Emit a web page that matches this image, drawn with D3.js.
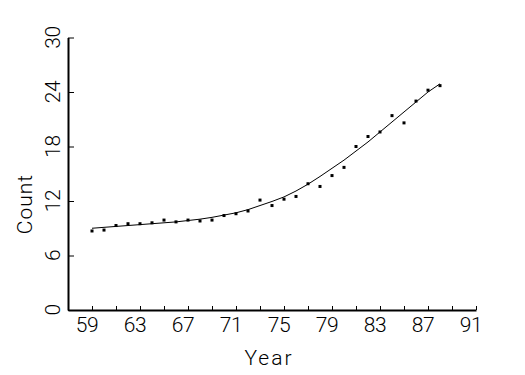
<!DOCTYPE html>
<html>
<head>
<meta charset="utf-8">
<script src="https://cdn.jsdelivr.net/npm/d3@7"></script>
<style>
  body { margin: 0; background: #fff; }
  svg text { font-family: "Roboto", "Liberation Sans Narrow", sans-serif; font-weight: 300; fill: #000; }
  .axis path { stroke: #000; stroke-width: 2; }
  .axis line { stroke: #000; stroke-width: 1; }
</style>
</head>
<body>
<script>
// data
var years = [59, 60, 61, 62, 63, 64, 65, 66, 67, 68, 69, 70, 71, 72, 73, 74,
             75, 76, 77, 78, 79, 80, 81, 82, 83, 84, 85, 86, 87, 88];
var counts = [8.7, 8.8, 9.3, 9.5, 9.5, 9.6, 9.9, 9.7, 9.9, 9.8, 9.9, 10.4, 10.6, 10.9, 12.1, 11.5,
              12.2, 12.5, 13.9, 13.6, 14.8, 15.7, 18.0, 19.1, 19.6, 21.4, 20.6, 23.0, 24.2, 24.7];
var fitted = [9.0, 9.1, 9.2, 9.3, 9.4, 9.5, 9.6, 9.7, 9.85, 10.0, 10.2, 10.45, 10.7, 11.05, 11.5, 11.95,
              12.45, 13.1, 13.85, 14.7, 15.6, 16.5, 17.5, 18.5, 19.6, 20.7, 21.8, 22.9, 24.0, 24.9];
var xTicks = d3.range(59, 92, 2);
var xLabels = d3.range(59, 92, 4);
var yTicks = [0, 6, 12, 18, 24, 30];

var svgWidth = 525;
var svgHeight = 375;

var svg = d3.select("body")
  .append("svg")
  .attr("width", svgWidth)
  .attr("height", svgHeight);

var xScale = d3.scaleLinear().domain([57, 91]).range([68, 476]);
var yScale = d3.scaleLinear().domain([0, 30]).range([310, 37.5]);

// x axis, ticks pointing up into the plot
var bottomAxis = d3.axisBottom(xScale)
  .tickValues(xTicks)
  .tickSizeInner(-4)
  .tickSizeOuter(0)
  .tickFormat("");

svg.append("g")
  .attr("class", "axis")
  .attr("transform", "translate(0,310)")
  .call(bottomAxis);

svg.append("g").selectAll("text")
  .data(xLabels)
  .enter()
  .append("text")
  .attr("x", d => xScale(d) - 5)
  .attr("y", 332)
  .attr("text-anchor", "middle")
  .style("font-size", "21px")
  .style("letter-spacing", "-0.5px")
  .text(d => d);

// y axis, ticks pointing right
var leftAxis = d3.axisLeft(yScale)
  .tickValues(yTicks)
  .tickSizeInner(-6)
  .tickSizeOuter(0)
  .tickFormat("");

svg.append("g")
  .attr("class", "axis")
  .attr("transform", "translate(68,0)")
  .call(leftAxis);

svg.append("g").selectAll("text")
  .data(yTicks)
  .enter()
  .append("text")
  .attr("transform", d => `translate(60,${yScale(d)}) rotate(-90)`)
  .attr("text-anchor", "middle")
  .style("font-size", "21px")
  .style("letter-spacing", "-0.5px")
  .text(d => d);

// axis titles
svg.append("text")
  .attr("x", 269)
  .attr("y", 365)
  .attr("text-anchor", "middle")
  .style("font-size", "21px")
  .style("letter-spacing", "2px")
  .text("Year");

svg.append("text")
  .attr("transform", "translate(32,204) rotate(-90)")
  .attr("text-anchor", "middle")
  .style("font-size", "21px")
  .style("letter-spacing", "1px")
  .text("Count");

// fitted curve
var line = d3.line()
  .x((d, i) => xScale(years[i]))
  .y(d => yScale(d));

svg.append("path")
  .datum(fitted)
  .attr("fill", "none")
  .attr("stroke", "#000")
  .attr("stroke-width", 1)
  .attr("d", line);

// observed points
svg.append("g").selectAll("rect")
  .data(counts)
  .enter()
  .append("rect")
  .attr("x", (d, i) => xScale(years[i]) - 1.5)
  .attr("y", d => yScale(d) - 1.5)
  .attr("width", 3)
  .attr("height", 3)
  .attr("fill", "#000");
</script>
</body>
</html>
